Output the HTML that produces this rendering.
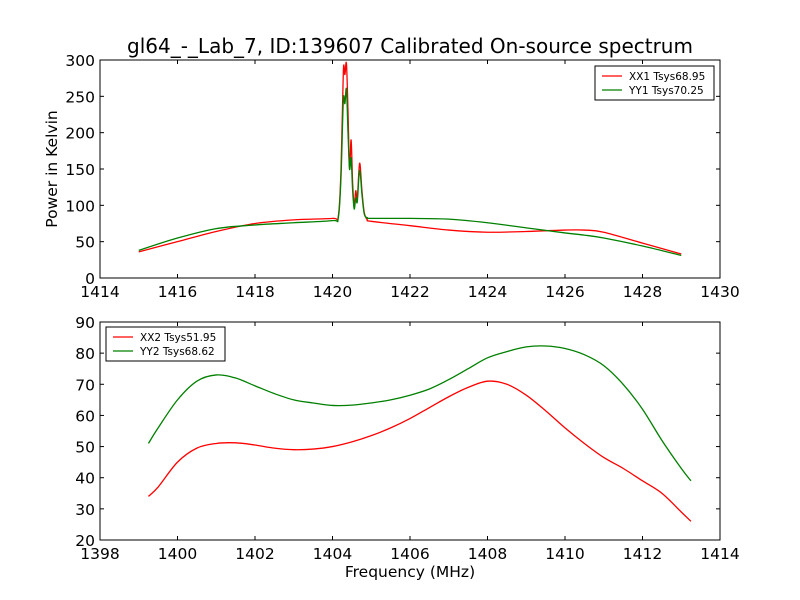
<!DOCTYPE html>
<html><head><meta charset="utf-8"><style>
body{margin:0;background:#fff}
svg{display:block;font-family:"DejaVu Sans","Liberation Sans",sans-serif}
</style></head><body>
<svg id="c" width="800" height="600" viewBox="0 0 800 600">
<rect width="800" height="600" fill="#fff"/>
<text x="410" y="53" font-size="20" text-anchor="middle">gl64_-_Lab_7, ID:139607 Calibrated On-source spectrum</text>
<g id="top"></g>
<g id="bot"></g>
</svg>
<script>
const topX=[1415,1416,1417,1418,1419,1420,1420.15,1420.22,1420.28,1420.32,1420.36,1420.4,1420.44,1420.48,1420.52,1420.56,1420.6,1420.64,1420.7,1420.76,1420.82,1420.9,1421,1422,1423,1424,1425,1426,1426.5,1427,1428,1429];
const xx1=[36,50,64,75,80,82,85,150,285,280,295,230,150,190,130,100,120,110,158,120,90,80,78,72,66,63,64,66,66,63,48,33];
const yy1Top=[38,55,68,73,76,79,83,140,245,240,260,200,150,165,120,95,110,105,148,115,88,83,82,82,81,76,69,62,59,55,44,31];
const botX=[1399.25,1399.5,1400,1400.5,1401,1401.5,1402,1402.5,1403,1403.5,1404,1404.5,1405,1405.5,1406,1406.5,1407,1407.5,1408,1408.5,1409,1409.5,1410,1410.5,1411,1411.5,1412,1412.5,1413,1413.25];
const xx2=[34,37,45,49.5,51,51.2,50.5,49.5,49,49.2,50,51.5,53.5,56,59,62.5,66,69,71,70,66.5,61.5,56,51,46.5,43,39,35,29,26];
const yy2=[51,56,65,71,73,72,69.5,67,65,64,63.2,63.3,64,65,66.5,68.5,71.5,75,78.5,80.5,82,82.3,81.5,79.5,76,70,62,52,43,39];
const topXTicks=[1414,1416,1418,1420,1422,1424,1426,1428,1430];
const topYTicks=[0,50,100,150,200,250,300];
const botXTicks=[1398,1400,1402,1404,1406,1408,1410,1412,1414];
const botYTicks=[20,30,40,50,60,70,80,90];
const NS="http://www.w3.org/2000/svg";
function mk(p,t,a){const e=document.createElementNS(NS,t);for(const k in a)e.setAttribute(k,a[k]);p.appendChild(e);return e;}
function smooth(P){let d='M'+P[0][0]+','+P[0][1];
  for(let i=0;i<P.length-1;i++){const p0=P[i-1]||P[i],p1=P[i],p2=P[i+1],p3=P[i+2]||p2;
    const c1=[p1[0]+(p2[0]-p0[0])/6,p1[1]+(p2[1]-p0[1])/6],c2=[p2[0]-(p3[0]-p1[0])/6,p2[1]-(p3[1]-p1[1])/6];
    d+=' C'+c1[0].toFixed(2)+','+c1[1].toFixed(2)+' '+c2[0].toFixed(2)+','+c2[1].toFixed(2)+' '+p2[0].toFixed(2)+','+p2[1].toFixed(2);}
  return d;}
function panel(g,x0,x1,y0,y1,L,T,R,B,xt,yt,series,names,leg){
  const sx=v=>L+(v-x0)/(x1-x0)*(R-L), sy=v=>B-(v-y0)/(y1-y0)*(B-T);
  series.forEach((s,i)=>{
    const pl=mk(g,'path',{d:smooth(s.x.map((v,j)=>[sx(v),sy(s.y[j])])),fill:'none',stroke:s.c,'stroke-width':1.3,'stroke-linejoin':'round'});
    
    
  });
  const fr=mk(g,'rect',{x:L,y:T,width:R-L,height:B-T,fill:'none',stroke:'#000','stroke-width':1});
  
  
  xt.forEach(v=>{const x=sx(v);mk(g,'line',{x1:x,x2:x,y1:B,y2:B-4,stroke:'#000'});mk(g,'line',{x1:x,x2:x,y1:T,y2:T+4,stroke:'#000'});
    const t=mk(g,'text',{x:x,y:B+19,'font-size':15.5,'text-anchor':'middle'});t.textContent=v;
    
    });
  yt.forEach(v=>{const y=sy(v);mk(g,'line',{x1:L,x2:L+4,y1:y,y2:y,stroke:'#000'});mk(g,'line',{x1:R,x2:R-4,y1:y,y2:y,stroke:'#000'});
    const t=mk(g,'text',{x:L-5,y:y+6,'font-size':15.5,'text-anchor':'end'});t.textContent=v;
    
    });
  const lg=mk(g,'g',{});
  
  
  mk(lg,'rect',{x:leg.x,y:leg.y,width:119,height:34,fill:'#fff',stroke:'#000'});
  leg.labels.forEach((lb,i)=>{const y=leg.y+10+i*14;
    mk(lg,'line',{x1:leg.x+7,x2:leg.x+27,y1:y,y2:y,stroke:series[i].c,'stroke-width':1.3});
    const t=mk(lg,'text',{x:leg.x+34,y:y+4,'font-size':10.5});t.textContent=lb;
    
    });
}
panel(document.getElementById('top'),1414,1430,0,300,100,60,720,278,topXTicks,topYTicks,
 [{x:topX,y:xx1,c:'#ff0000'},{x:topX,y:yy1Top,c:'#008000'}],['xx1-line','yy1-line'],
 {x:595,y:66,labels:['XX1 Tsys68.95','YY1 Tsys70.25']});
panel(document.getElementById('bot'),1398,1414,20,90,100,322,720,540,botXTicks,botYTicks,
 [{x:botX,y:xx2,c:'#ff0000'},{x:botX,y:yy2,c:'#008000'}],['xx2-line','yy2-line'],
 {x:106,y:327,labels:['XX2 Tsys51.95','YY2 Tsys68.62']});
const svg=document.getElementById('c');
let t=mk(svg,'text',{x:410,y:577,'font-size':15.5,'text-anchor':'middle'});t.textContent='Frequency (MHz)';


t=mk(svg,'text',{x:0,y:0,'font-size':15.5,'text-anchor':'middle',transform:'translate(57,169) rotate(-90)'});t.textContent='Power in Kelvin';


</script>
</body></html>
